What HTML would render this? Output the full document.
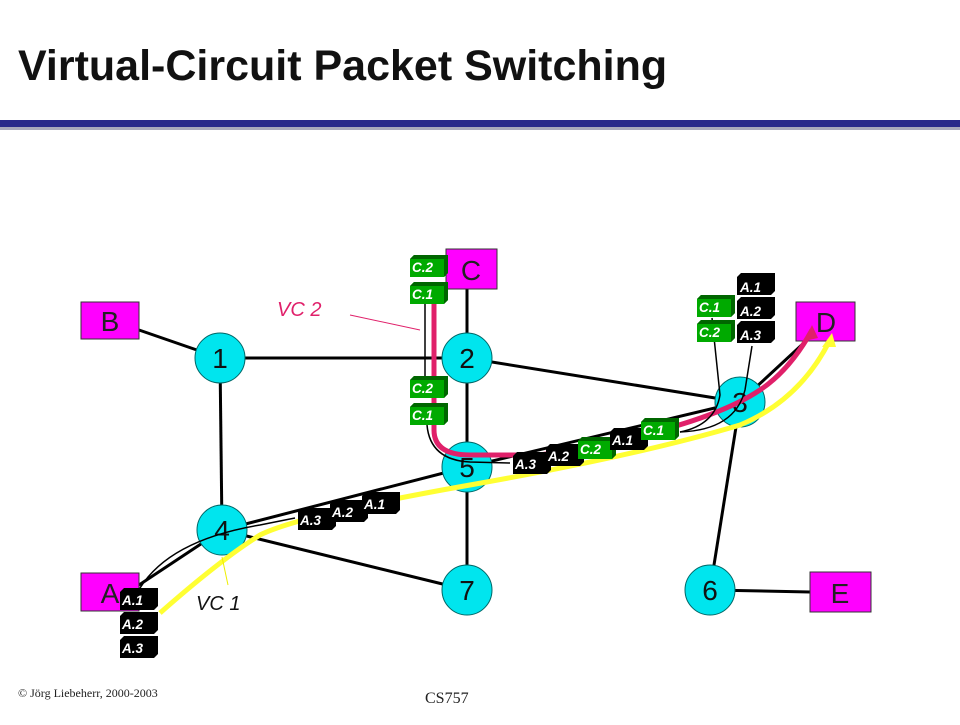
<!DOCTYPE html>
<html><head><meta charset="utf-8"><style>
body{margin:0;background:#fff;width:960px;height:720px;overflow:hidden;font-family:"Liberation Sans",sans-serif}
</style></head><body>
<svg width="960" height="720" xmlns="http://www.w3.org/2000/svg" font-family="Liberation Sans, sans-serif">
<text x="18" y="80" font-size="43" font-weight="bold" fill="#111">Virtual-Circuit Packet Switching</text>
<rect x="0" y="120" width="960" height="7" fill="#2a2a8a"/>
<rect x="0" y="127" width="960" height="3" fill="#aab"/>
<g stroke="#000" stroke-width="3" fill="none">
<line x1="139" y1="330" x2="220" y2="358"/>
<line x1="220" y1="358" x2="467" y2="358"/>
<line x1="220" y1="358" x2="222" y2="530"/>
<line x1="467" y1="289" x2="467" y2="590"/>
<line x1="467" y1="358" x2="740" y2="402"/>
<line x1="222" y1="530" x2="467" y2="590"/>
<line x1="139" y1="585" x2="222" y2="530"/>
<line x1="222" y1="530" x2="467" y2="467"/>
<line x1="467" y1="467" x2="740" y2="402"/>
<line x1="740" y1="402" x2="806" y2="341"/>
<line x1="740" y1="402" x2="710" y2="590"/>
<line x1="710" y1="590" x2="810" y2="592"/>
</g>
<g fill="#00e5ee" stroke="#066" stroke-width="1">
<circle cx="220" cy="358" r="25"/><circle cx="467" cy="358" r="25"/><circle cx="740" cy="402" r="25"/>
<circle cx="222" cy="530" r="25"/><circle cx="467" cy="467" r="25"/><circle cx="467" cy="590" r="25"/><circle cx="710" cy="590" r="25"/>
</g>
<g font-size="28" text-anchor="middle" fill="#111">
<text x="220" y="368">1</text><text x="467" y="368">2</text><text x="740" y="412">3</text>
<text x="222" y="540">4</text><text x="467" y="477">5</text><text x="467" y="600">7</text><text x="710" y="600">6</text>
</g>
<g fill="#ff00ff" stroke="#333" stroke-width="1">
<rect x="81" y="302" width="58" height="37"/><rect x="446" y="249" width="51" height="40"/>
<rect x="796" y="302" width="59" height="39"/><rect x="81" y="573" width="58" height="38"/><rect x="810" y="572" width="61" height="40"/>
</g>
<g font-size="28" text-anchor="middle" fill="#222">
<text x="110" y="331">B</text><text x="471" y="280">C</text><text x="826" y="332">D</text><text x="110" y="603">A</text><text x="840" y="603">E</text>
</g>
<path d="M434,300 L434,430 Q434,455 470,455 L540,455 Q700,430 760,390 Q790,370 812,330" stroke="#e0206a" stroke-width="5" fill="none"/>
<polygon points="812,325 804,341 818,338" fill="#e0206a"/>
<path d="M160,613 Q220,560 260,535 Q300,515 470,485 Q640,455 740,425 Q800,400 830,340" stroke="#ffff33" stroke-width="5" fill="none"/>
<polygon points="832,333 822,347 836,347" fill="#ffff33"/>
<g stroke="#000" stroke-width="1.5" fill="none">
<path d="M425,300 L425,380"/>
<path d="M427,425 Q430,460 470,462 L510,463"/>
<path d="M140,588 Q170,540 260,525 L295,518"/>
<path d="M680,432 Q715,425 720,395 L712,318"/>
<path d="M680,432 Q735,430 745,390 L752,346"/>
</g>
<line x1="350" y1="315" x2="420" y2="330" stroke="#e0206a" stroke-width="1"/>
<line x1="222" y1="557" x2="228" y2="585" stroke="#ee0" stroke-width="1"/>
<text x="277" y="316" font-size="20" font-style="italic" fill="#e0206a">VC 2</text>
<text x="196" y="610" font-size="20" font-style="italic" fill="#111">VC 1</text>
<defs>
<g id="g"><polygon points="4,0 38,0 38,18 34,22 0,22 0,4" fill="#0a0"/><polygon points="4,0 38,0 34,4 0,4" fill="#060"/><polygon points="38,0 38,18 34,22 34,4" fill="#060"/></g>
<g id="k"><polygon points="4,0 38,0 38,18 34,22 0,22 0,4" fill="#000"/></g>
</defs>
<g font-size="13.5" font-weight="bold" font-style="italic" fill="#fff">
<use href="#g" x="410" y="255"/><text x="412" y="272">C.2</text>
<use href="#g" x="410" y="282"/><text x="412" y="299">C.1</text>
<use href="#g" x="410" y="376"/><text x="412" y="393">C.2</text>
<use href="#g" x="410" y="403"/><text x="412" y="420">C.1</text>
<use href="#g" x="697" y="295"/><text x="699" y="312">C.1</text>
<use href="#g" x="697" y="320"/><text x="699" y="337">C.2</text>
<use href="#k" x="737" y="273"/><text x="740" y="292">A.1</text>
<use href="#k" x="737" y="297"/><text x="740" y="316">A.2</text>
<use href="#k" x="737" y="321"/><text x="740" y="340">A.3</text>
<use href="#k" x="513" y="452"/><text x="515" y="469">A.3</text>
<use href="#k" x="546" y="444"/><text x="548" y="461">A.2</text>
<use href="#g" x="578" y="437"/><text x="580" y="454">C.2</text>
<use href="#k" x="610" y="428"/><text x="612" y="445">A.1</text>
<use href="#g" x="641" y="418"/><text x="643" y="435">C.1</text>
<use href="#k" x="298" y="508"/><text x="300" y="525">A.3</text>
<use href="#k" x="330" y="500"/><text x="332" y="517">A.2</text>
<use href="#k" x="362" y="492"/><text x="364" y="509">A.1</text>
<use href="#k" x="120" y="588"/><text x="122" y="605">A.1</text>
<use href="#k" x="120" y="612"/><text x="122" y="629">A.2</text>
<use href="#k" x="120" y="636"/><text x="122" y="653">A.3</text>
</g>
<text x="18" y="697" font-family="Liberation Serif, serif" font-size="12" fill="#222">© Jörg Liebeherr, 2000-2003</text>
<text x="425" y="703" font-family="Liberation Serif, serif" font-size="16" fill="#222">CS757</text>
</svg>
</body></html>
